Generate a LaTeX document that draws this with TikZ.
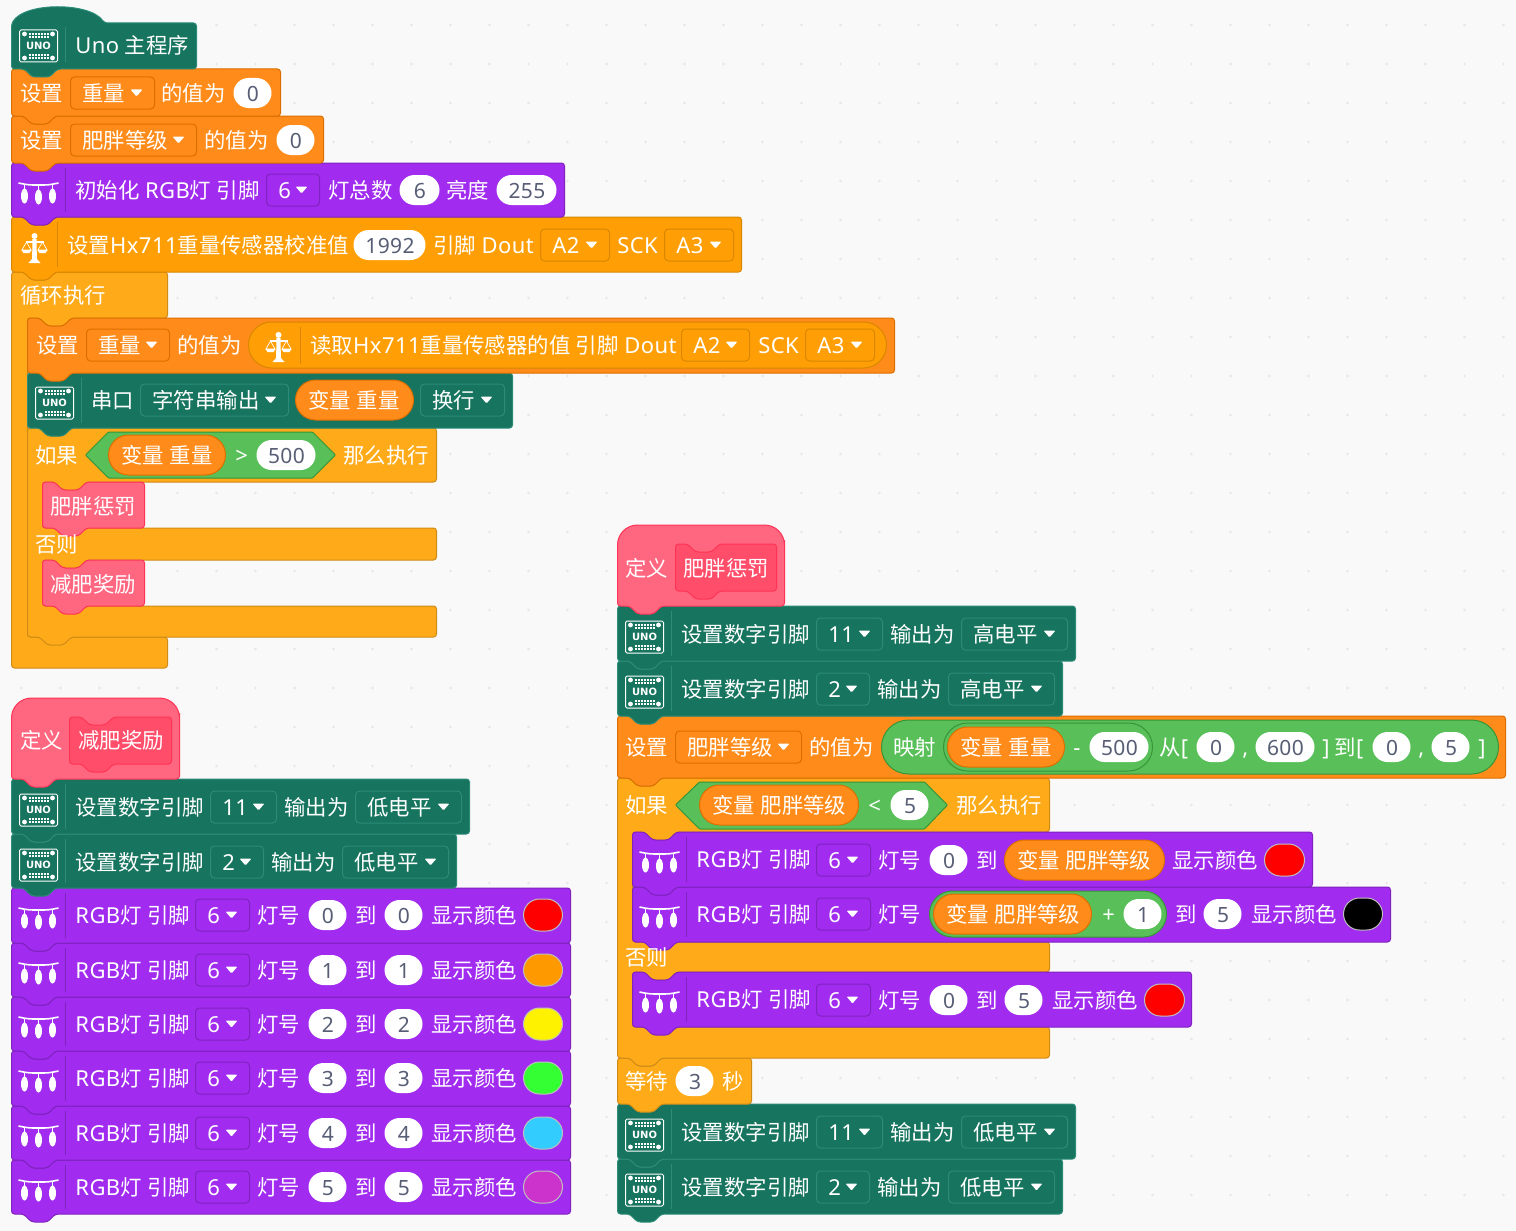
\documentclass[tikz,border=0pt]{standalone}
\usepackage{fontspec}
\setmainfont{Noto Sans CJK SC}
\newfontfamily\latfont[LetterSpace=2]{Noto Sans}
\newfontfamily\boardfont{DejaVu Sans}
\newcommand{\lat}[1]{{\latfont\fontsize{22}{26}\selectfont #1}}
\newcommand{\gap}{\hspace{5.5pt}}
\definecolor{pagebg}{HTML}{F9F9F9}
\definecolor{griddot}{HTML}{E6E6E6}
\definecolor{tealfill}{HTML}{16745F}
\definecolor{tealline}{HTML}{2C8C78}
\definecolor{orangefill}{HTML}{FF8C1A}
\definecolor{orangeline}{HTML}{DB6E00}
\definecolor{purplefill}{HTML}{A12CF0}
\definecolor{purpleline}{HTML}{7F22BE}
\definecolor{amberfill}{HTML}{FF9F05}
\definecolor{amberline}{HTML}{D98600}
\definecolor{ctrlfill}{HTML}{FFAB19}
\definecolor{ctrlline}{HTML}{CF8B17}
\definecolor{greenfill}{HTML}{59C059}
\definecolor{greenline}{HTML}{389438}
\definecolor{pinkfill}{HTML}{FF6680}
\definecolor{pinkdark}{HTML}{FF4D6A}
\definecolor{pinkline}{HTML}{FF3355}
\definecolor{numtext}{HTML}{575E75}
\definecolor{hueorange}{HTML}{FF9900}
\definecolor{huegreen}{HTML}{33FF33}
\definecolor{huecyan}{HTML}{33CCFF}
\definecolor{huemagenta}{HTML}{CC33CC}
\tikzset{
  tealblk/.style={fill=tealfill,draw=tealline,line width=1pt,rounded corners=3pt},
  orangeblk/.style={fill=orangefill,draw=orangeline,line width=1pt,rounded corners=3pt},
  purpleblk/.style={fill=purplefill,draw=purpleline,line width=1pt,rounded corners=3pt},
  amberblk/.style={fill=amberfill,draw=amberline,line width=1pt,rounded corners=3pt},
  ctrlblk/.style={fill=ctrlfill,draw=ctrlline,line width=1pt,rounded corners=3pt},
  greenblk/.style={fill=greenfill,draw=greenline,line width=1pt,rounded corners=3pt},
  pinkblk/.style={fill=pinkfill,draw=pinkline,line width=1pt,rounded corners=3pt},
  pinkcall/.style={fill=pinkdark,draw=pinkline,line width=1pt,rounded corners=3pt},
  lbltext/.style={anchor=west,inner sep=0pt,text=white,font=\fontsize{21.4}{25}\selectfont,text height=19pt,text depth=3pt},
  numtxt/.style={inner sep=0pt,text=numtext,font=\latfont\fontsize{21}{25}\selectfont,text height=19pt,text depth=3pt},
  boardtxt/.style={inner sep=0pt,text=white,font=\boardfont\bfseries\fontsize{10}{12}\selectfont}
}
\newcounter{txtno}
% plain white text
\newcommand{\lbl}[3]{\stepcounter{txtno}\node[lbltext] (txt\arabic{txtno}) at (#1+0.7,#2) {#3};}
% block with a notch on top and a bump below
\newcommand{\stackblk}[5]{\draw[#1] (#2,#3) -- (#2+12,#3) -- (#2+20,#3+8) -- (#2+36,#3+8) -- (#2+44,#3) -- (#4,#3) -- (#4,#5) -- (#2+44,#5) -- (#2+36,#5+8) -- (#2+20,#5+8) -- (#2+12,#5) -- (#2,#5) -- cycle;}
% pill: style, x1, x2, y, half height
\newcommand{\pillbox}[5]{\draw[#1,rounded corners=#5pt] (#2,#4-#5) rectangle (#3,#4+#5);}
\newcommand{\numpill}[4]{\fill[white,rounded corners=15pt] (#1,#3-15) rectangle (#2,#3+15);
  \stepcounter{txtno}\node[numtxt] (txt\arabic{txtno}) at ({(#1+#2)/2+0.5},#3) {#4};}
\newcommand{\varpill}[4]{\pillbox{orangeblk}{#1}{#2}{#3}{20}\lbl{#1+12}{#3}{#4}}
\newcommand{\huepill}[4]{\draw[fill=#4,draw=black!25,line width=1pt,rounded corners=16pt] (#1,#3-16) rectangle (#2,#3+16);}
% drop down field: x1, x2, y, text, line colour
\newcommand{\dropfield}[5]{\draw[draw=#5,line width=1pt,rounded corners=4pt] (#1,#3-16) rectangle (#2,#3+16);
  \lbl{#1+11}{#3}{#4}
  \fill[white,rounded corners=1pt] (#2-24,#3-3.5) -- (#2-12,#3-3.5) -- (#2-18,#3+3.5) -- cycle;}
\newcommand{\sepline}[4]{\draw[#4,line width=1pt] (#1,#2) -- (#1,#3);}
% icons
\newcommand{\unoicon}[2]{\begin{scope}[shift={(#1,#2)}]
  \draw[white,line width=1pt,rounded corners=1.5pt] (-19,-16) rectangle (19,16);
  \foreach \px in {-14,14} \foreach \py in {-12,12} \fill[white] (\px,\py) circle (2.4);
  \foreach \py in {-12,-9,9,12} \draw[white,line width=2pt,dash pattern=on 2pt off 1pt] (-10,\py) -- (10,\py);
  \stepcounter{txtno}\node[boardtxt] (txt\arabic{txtno}) at (0,0) {UNO};
  \end{scope}}
\newcommand{\lighticon}[2]{\begin{scope}[shift={(#1,#2)}]
  \draw[white,line width=1.6pt] (-20,-10) .. controls (-10,-8) .. (0,-8) .. controls (10,-8) .. (20,-10);
  \foreach \bx in {-14,0,14} {
    \draw[white,line width=1.6pt] (\bx,-9) -- (\bx,-2);
    \fill[white] (\bx,\bx*\bx/-200+4) ellipse (3.5 and 7.5);
  }
  \end{scope}}
\newcommand{\scaleicon}[2]{\begin{scope}[shift={(#1,#2)}]
  \fill[white] (0,-11) circle (3);
  \fill[white] (-2,-8) -- (2,-8) -- (2.4,12) -- (6,16) -- (-6,16) -- (-2.4,12) -- cycle;
  \draw[white,line width=1.4pt] (-9,-5) -- (9,-5);
  \draw[white,line width=.7pt] (-8,-5) -- (-12.5,3) -- (-3.5,3) -- cycle (8,-5) -- (12.5,3) -- (3.5,3) -- cycle;
  \fill[white] (-13,3) -- (-3,3) -- (-5,6) -- (-11,6) -- cycle (13,3) -- (3,3) -- (5,6) -- (11,6) -- cycle;
  \end{scope}}
% row of the digital pin block
\newcommand{\pinrow}[6]{\stackblk{tealblk}{#1}{#2}{#1+458+#6}{#3}
  \unoicon{#1+27}{#2+31}
  \sepline{#1+54}{#2+5}{#3-5}{tealline}
  \lbl{#1+63}{#2+28}{设置数字引脚}
  \dropfield{#1+199}{#1+265+#6}{#2+28}{\lat{#4}}{tealline}
  \lbl{#1+272+#6}{#2+28}{输出为}
  \dropfield{#1+344+#6}{#1+450+#6}{#2+28}{#5}{tealline}}
% start of a row of RGB lights
\newcommand{\lightstart}[4]{\stackblk{purpleblk}{#1}{#2}{#3}{#4}
  \lighticon{#1+27}{#2+30}
  \sepline{#1+54}{#2+5}{#4-5}{purpleline}
  \lbl{#1+63}{#2+27}{\lat{RGB}灯\gap 引脚}}
\newcommand{\rgbrow}[4]{\lightstart{12}{#1}{571}{#2}
  \dropfield{196}{250}{#1+27}{\lat{6}}{purpleline}
  \lbl{257}{#1+27}{灯号}
  \numpill{309}{347}{#1+27}{#3}
  \lbl{355}{#1+27}{到}
  \numpill{385}{423}{#1+27}{#3}
  \lbl{431}{#1+27}{显示颜色}
  \huepill{524}{563}{#1+27}{#4}}
% if else block: x, top, right, head bottom, else top, else bottom, foot top, bottom
\newcommand{\ifelseblk}[8]{\draw[ctrlblk] (#1,#2) -- (#1+12,#2) -- (#1+20,#2+8) -- (#1+36,#2+8) -- (#1+44,#2) -- (#3,#2) -- (#3,#4)
  -- (#1+59,#4) -- (#1+51,#4+8) -- (#1+35,#4+8) -- (#1+27,#4) -- (#1+15,#4) -- (#1+15,#5) -- (#3,#5) -- (#3,#6)
  -- (#1+59,#6) -- (#1+51,#6+8) -- (#1+35,#6+8) -- (#1+27,#6) -- (#1+15,#6) -- (#1+15,#7) -- (#3,#7) -- (#3,#8)
  -- (#1+44,#8) -- (#1+36,#8+8) -- (#1+20,#8+8) -- (#1+12,#8) -- (#1,#8) -- cycle;}
\begin{document}
\begin{tikzpicture}[x=1pt,y=-1pt]
  \useasboundingbox (0.5,0) rectangle (1516.5,1231);
  \fill[pagebg] (0,0) rectangle (1517,1231);
  % grid dots
  \foreach \gx in {0,...,38} \foreach \gy in {0,...,31} \fill[griddot] (22+39*\gx,25+39*\gy) circle (1.3);

  % right stack, lowest block first
  \pinrow{618}{1159}{1214}{2}{低电平}{-13}
  \pinrow{618}{1104}{1159}{11}{低电平}{0}
  % wait
  \stackblk{ctrlblk}{618}{1058}{752}{1104}
  \lbl{625}{1081}{等待}
  \numpill{676}{714}{1081}{3}
  \lbl{722}{1081}{秒}
  % if else
  \ifelseblk{618}{778}{1050}{832}{942}{972}{1027}{1058}
  \lightstart{633}{972}{1192}{1027}
  \dropfield{817}{871}{1000}{\lat{6}}{purpleline}
  \lbl{878}{1000}{灯号}
  \numpill{930}{968}{1000}{0}
  \lbl{976}{1000}{到}
  \numpill{1005}{1043}{1000}{5}
  \lbl{1052}{1000}{显示颜色}
  \huepill{1145}{1185}{1000}{red}
  \lightstart{633}{887}{1391}{942}
  \dropfield{817}{871}{914}{\lat{6}}{purpleline}
  \lbl{878}{914}{灯号}
  \pillbox{greenblk}{930}{1167}{914}{23}
  \varpill{934}{1092}{914}{变量\gap 肥胖等级}
  \lbl{1102}{914}{\lat{+}}
  \numpill{1124}{1162}{914}{1}
  \lbl{1175}{914}{到}
  \numpill{1204}{1242}{914}{5}
  \lbl{1251}{914}{显示颜色}
  \huepill{1344}{1383}{914}{black}
  \lightstart{633}{832}{1313}{887}
  \dropfield{817}{871}{860}{\lat{6}}{purpleline}
  \lbl{878}{860}{灯号}
  \numpill{930}{968}{860}{0}
  \lbl{976}{860}{到}
  \varpill{1005}{1165}{860}{变量\gap 肥胖等级}
  \lbl{1172}{860}{显示颜色}
  \huepill{1265}{1305}{860}{red}
  \lbl{625}{957}{否则}
  \lbl{625}{805}{如果}
  \draw[greenblk,rounded corners=1pt] (676,805) -- (700,782) -- (925,782) -- (948,805) -- (925,829) -- (700,829) -- cycle;
  \varpill{700}{859}{805}{变量\gap 肥胖等级}
  \lbl{868}{805}{\lat{<}}
  \numpill{891}{929}{805}{5}
  \lbl{956}{805}{那么执行}
  % set level
  \stackblk{orangeblk}{618}{716}{1506}{778}
  \lbl{625}{747}{设置}
  \dropfield{676}{802}{747}{肥胖等级}{orangeline}
  \lbl{809}{747}{的值为}
  \pillbox{greenblk}{882}{1499}{747}{27}
  \lbl{893}{747}{映射}
  \pillbox{greenblk}{944}{1153}{747}{24}
  \varpill{948}{1065}{747}{变量\gap 重量}
  \lbl{1073}{747}{\lat{-}}
  \numpill{1090}{1149}{747}{500}
  \lbl{1159}{747}{从\lat{[}}
  \numpill{1197}{1235}{747}{0}
  \lbl{1242}{747}{\lat{,}}
  \numpill{1256}{1315}{747}{600}
  \lbl{1322}{747}{\lat{]}\hspace{5pt}到\lat{[}}
  \numpill{1373}{1411}{747}{0}
  \lbl{1418}{747}{\lat{,}}
  \numpill{1432}{1470}{747}{5}
  \lbl{1478}{747}{\lat{]}}
  \pinrow{618}{661}{716}{2}{高电平}{-13}
  \pinrow{618}{606}{661}{11}{高电平}{0}
  % define penalty hat
  \draw[pinkblk] (618,560) [rounded corners=20pt] -- (618,525) -- (785,525) -- (785,560) [rounded corners=3pt] -- (785,606) -- (662,606) -- (654,614) -- (638,614) -- (630,606) -- (618,606) -- cycle;
  \lbl{625}{568}{定义}
  \stackblk{pinkcall}{676}{544}{777}{591}
  \lbl{683}{568}{肥胖惩罚}

  % left lower stack, lowest block first
  \rgbrow{1160}{1214}{5}{huemagenta}
  \rgbrow{1106}{1160}{4}{huecyan}
  \rgbrow{1051}{1106}{3}{huegreen}
  \rgbrow{997}{1051}{2}{yellow}
  \rgbrow{943}{997}{1}{hueorange}
  \rgbrow{888}{943}{0}{red}
  \pinrow{12}{834}{888}{2}{低电平}{-13}
  \pinrow{12}{779}{834}{11}{低电平}{0}
  % define reward hat
  \draw[pinkblk] (12,733) [rounded corners=20pt] -- (12,698) -- (180,698) -- (180,733) [rounded corners=3pt] -- (180,779) -- (56,779) -- (48,787) -- (32,787) -- (24,779) -- (12,779) -- cycle;
  \lbl{20}{740}{定义}
  \stackblk{pinkcall}{70}{717}{172}{764}
  \lbl{78}{740}{减肥奖励}

  % loop
  \draw[ctrlblk] (12,272) -- (24,272) -- (32,280) -- (48,280) -- (56,272) -- (168,272) -- (168,318) -- (72,318) -- (64,326) -- (48,326) -- (40,318) -- (28,318) -- (28,637) -- (168,637) -- (168,668) -- (12,668) -- cycle;
  \lbl{20}{295}{循环执行}
  % if else in the loop
  \ifelseblk{28}{428}{437}{482}{528}{560}{606}{637}
  \stackblk{pinkblk}{43}{560}{145}{606}
  \lbl{50}{584}{减肥奖励}
  \stackblk{pinkblk}{43}{482}{145}{528}
  \lbl{50}{506}{肥胖惩罚}
  \lbl{35}{544}{否则}
  \lbl{35}{455}{如果}
  \draw[greenblk,rounded corners=1pt] (86,455) -- (109,432) -- (313,432) -- (336,455) -- (313,478) -- (109,478) -- cycle;
  \varpill{109}{226}{455}{变量\gap 重量}
  \lbl{235}{455}{\lat{>}}
  \numpill{257}{316}{455}{500}
  \lbl{343}{455}{那么执行}
  % serial
  \stackblk{tealblk}{28}{373}{513}{428}
  \unoicon{55}{403}
  \sepline{82}{378}{423}{tealline}
  \lbl{91}{400}{串口}
  \dropfield{141}{289}{400}{字符串输出}{tealline}
  \varpill{296}{414}{400}{变量\gap 重量}
  \dropfield{421}{505}{400}{换行}{tealline}
  % read weight
  \stackblk{orangeblk}{28}{318}{895}{373}
  \lbl{36}{345}{设置}
  \dropfield{87}{170}{345}{重量}{orangeline}
  \lbl{177}{345}{的值为}
  \pillbox{amberblk}{249}{887}{345}{23}
  \scaleicon{279}{346}
  \sepline{301}{327}{364}{amberline}
  \lbl{310}{345}{读取\lat{Hx711}重量传感器的值\gap 引脚\gap\lat{Dout}}
  \dropfield{682}{750}{345}{\lat{A2}}{amberline}
  \lbl{758}{345}{\lat{SCK}}
  \dropfield{806}{875}{345}{\lat{A3}}{amberline}

  % top stack, lowest block first
  \stackblk{amberblk}{12}{217}{742}{272}
  \scaleicon{35}{247}
  \sepline{58}{222}{267}{amberline}
  \lbl{67}{245}{设置\lat{Hx711}重量传感器校准值}
  \numpill{354}{426}{245}{1992}
  \lbl{433}{245}{引脚\gap\lat{Dout}}
  \dropfield{541}{610}{245}{\lat{A2}}{amberline}
  \lbl{617}{245}{\lat{SCK}}
  \dropfield{665}{734}{245}{\lat{A3}}{amberline}
  \stackblk{purpleblk}{12}{163}{565}{217}
  \lighticon{39}{193}
  \sepline{66}{168}{212}{purpleline}
  \lbl{75}{190}{初始化\gap\lat{RGB}灯\gap 引脚}
  \dropfield{267}{320}{190}{\lat{6}}{purpleline}
  \lbl{328}{190}{灯总数}
  \numpill{400}{440}{190}{6}
  \lbl{446}{190}{亮度}
  \numpill{497}{557}{190}{255}
  \stackblk{orangeblk}{12}{116}{324}{163}
  \lbl{20}{140}{设置}
  \dropfield{71}{197}{140}{肥胖等级}{orangeline}
  \lbl{204}{140}{的值为}
  \numpill{277}{315}{140}{0}
  \stackblk{orangeblk}{12}{69}{281}{116}
  \lbl{20}{93}{设置}
  \dropfield{71}{155}{93}{重量}{orangeline}
  \lbl{161}{93}{的值为}
  \numpill{234}{272}{93}{0}
  % main hat
  \draw[tealblk] (12,69) -- (12,24) .. controls (25,2) and (90,2) .. (105,23) -- (197,23) -- (197,69) -- (58,69) -- (50,77) -- (33,77) -- (25,69) -- cycle;
  \unoicon{39}{46}
  \sepline{66}{27}{62}{tealline}
  \lbl{75}{46}{\lat{Uno}\gap 主程序}
\end{tikzpicture}
\end{document}
